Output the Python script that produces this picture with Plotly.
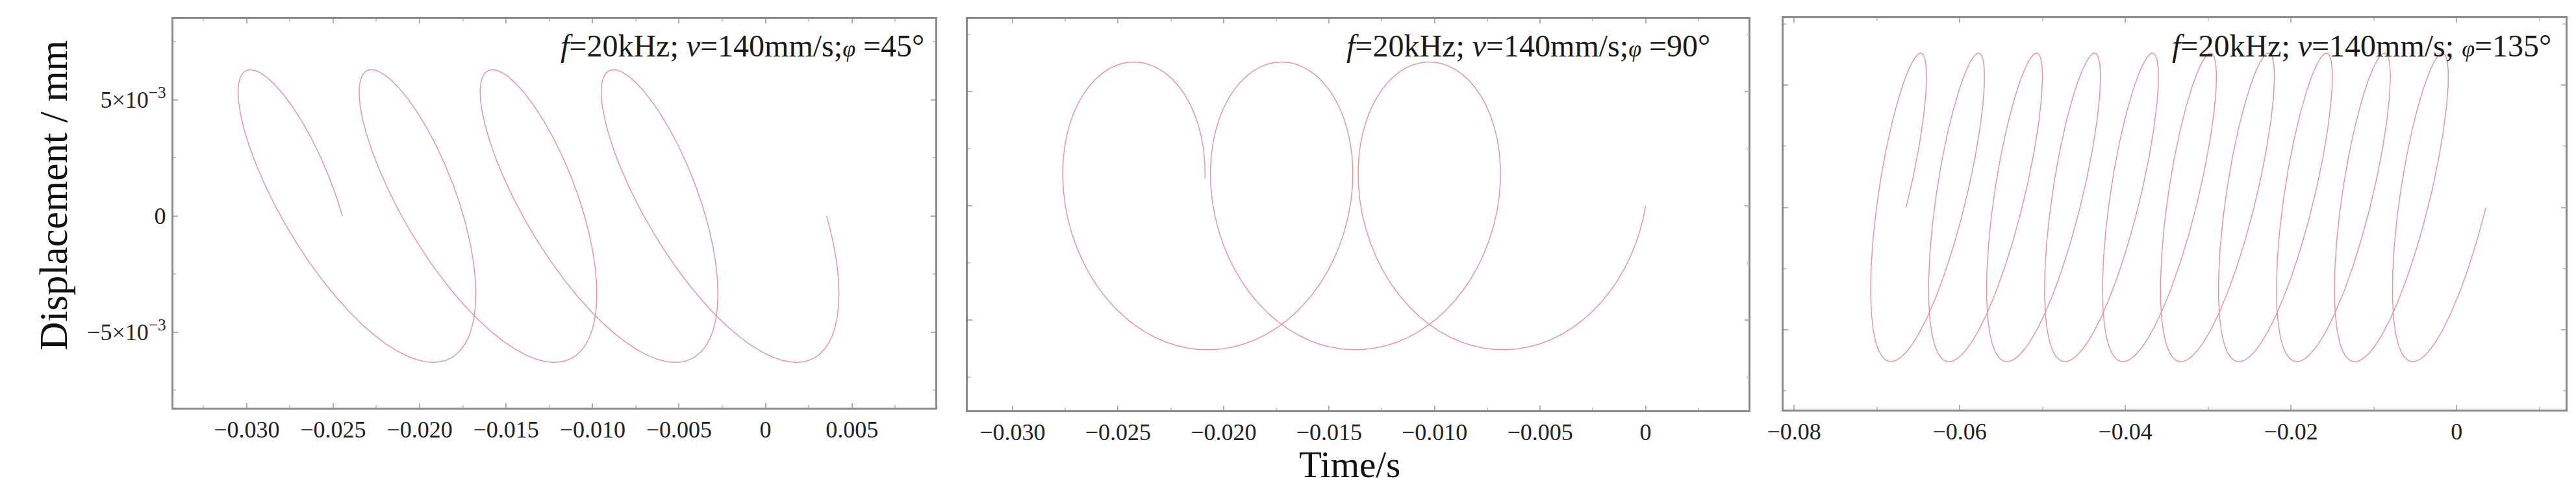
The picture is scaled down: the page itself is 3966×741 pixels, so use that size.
import numpy as np
import plotly.graph_objects as go

# values
freq_hz = 20000.0
speed_mm_s = 140.0
phase_deg = [45, 90, 135]
n_periods = [4, 3, 10]
amp_x_mm = 0.005
amp_y_mm = 0.0063
x_shift_mm = [0.0, -0.005, 0.0]
start_angle = [0.0, 0.19, 0.0]

x_ticks = [
    [-0.030, -0.025, -0.020, -0.015, -0.010, -0.005, 0, 0.005],
    [-0.030, -0.025, -0.020, -0.015, -0.010, -0.005, 0],
    [-0.08, -0.06, -0.04, -0.02, 0],
]
x_ticktext = [
    ["−0.030", "−0.025", "−0.020", "−0.015", "−0.010", "−0.005", "0", "0.005"],
    ["−0.030", "−0.025", "−0.020", "−0.015", "−0.010", "−0.005", "0"],
    ["−0.08", "−0.06", "−0.04", "−0.02", "0"],
]
y_ticks = [-0.005, 0, 0.005]
y_ticktext = ["−5×10<sup>−3</sup>", "0", "5×10<sup>−3</sup>"]

x_ranges = [[-0.03422, 0.00981], [-0.03211, 0.00489], [-0.08125, 0.01317]]
y_ranges = [[-0.00825, 0.00849], [-0.00895, 0.00819], [-0.00826, 0.00773]]
x_minor = [0.0025, 0.0025, 0.01]

# plot areas in pixels of the 3966x741 page
W, H = 3966, 741
boxes = [(235, 1415, 21, 620), (1466, 2676, 21, 624), (2730, 3942, 20, 623)]

FONT = "Liberation Serif, Times New Roman, serif"
LINE = "rgb(229,150,160)"
AX = "#8a8a8a"

fig = go.Figure()
w = 2 * np.pi * freq_hz
for i in range(3):
    t = np.linspace(-n_periods[i] / freq_hz + start_angle[i] / w, 0, 4000)
    x = speed_mm_s * t + amp_x_mm * np.cos(w * t + np.pi / 2 - np.radians(phase_deg[i])) + x_shift_mm[i]
    y = amp_y_mm * np.sin(w * t)
    s = "" if i == 0 else str(i + 1)
    fig.add_trace(go.Scatter(x=x, y=y, mode="lines", line=dict(color=LINE, width=1.5),
                             xaxis="x" + s, yaxis="y" + s, showlegend=False, hoverinfo="skip"))

    x0, x1, y0, y1 = boxes[i]
    common = dict(showline=True, linecolor=AX, linewidth=2.5, mirror="ticks", ticks="inside",
                  ticklen=7, tickwidth=1.5, tickcolor="#b0b0b0", showgrid=False, zeroline=False,
                  tickfont=dict(family=FONT, size=36, color="#222"))
    fig.layout["xaxis" + s] = dict(
        common, domain=[x0 / W, x1 / W], range=x_ranges[i], anchor="y" + s,
        tickmode="array", tickvals=x_ticks[i], ticktext=x_ticktext[i], ticklabelstandoff=0,
        minor=dict(ticks="inside", ticklen=4, tickcolor="#c8c8c8", tickmode="linear",
                   tick0=0, dtick=x_minor[i]))
    fig.layout["yaxis" + s] = dict(
        common, domain=[1 - y1 / H, 1 - y0 / H], range=y_ranges[i], anchor="x" + s,
        tickmode="array", tickvals=y_ticks, ticktext=y_ticktext, showticklabels=(i == 0),
        ticklabelstandoff=2,
        minor=dict(ticks="inside", ticklen=4, tickcolor="#c8c8c8", tickmode="linear",
                   tick0=0, dtick=0.0025))

labels = [
    "<i>f</i>=20kHz; <i>v</i>=140mm/s;<span style='font-size:36px'><i>φ</i></span> =45°",
    "<i>f</i>=20kHz; <i>v</i>=140mm/s;<span style='font-size:36px'><i>φ</i></span> =90°",
    "<i>f</i>=20kHz; <i>v</i>=140mm/s; <span style='font-size:36px'><i>φ</i></span>=135°",
]
label_right = [1400, 2618, 3922]
for i in range(3):
    fig.add_annotation(text=labels[i], xref="paper", yref="paper", x=label_right[i] / W,
                       y=1 - 62 / H, xanchor="right", yanchor="middle", showarrow=False,
                       font=dict(family=FONT, size=48, color="#1a1a1a"))

fig.add_annotation(text="Time/s", xref="paper", yref="paper", x=2057 / W, y=1 - 707 / H,
                   xanchor="center", yanchor="middle", showarrow=False,
                   font=dict(family=FONT, size=57, color="#111"))
fig.add_annotation(text="Displacement / mm", xref="paper", yref="paper", x=48 / W, y=1 - 293 / H,
                   xanchor="center", yanchor="middle", textangle=-90, showarrow=False,
                   font=dict(family=FONT, size=61, color="#111"))

fig.update_layout(width=W, height=H, autosize=False, margin=dict(l=0, r=0, t=0, b=0),
                  paper_bgcolor="white", plot_bgcolor="white")
fig.write_html("out.html")
